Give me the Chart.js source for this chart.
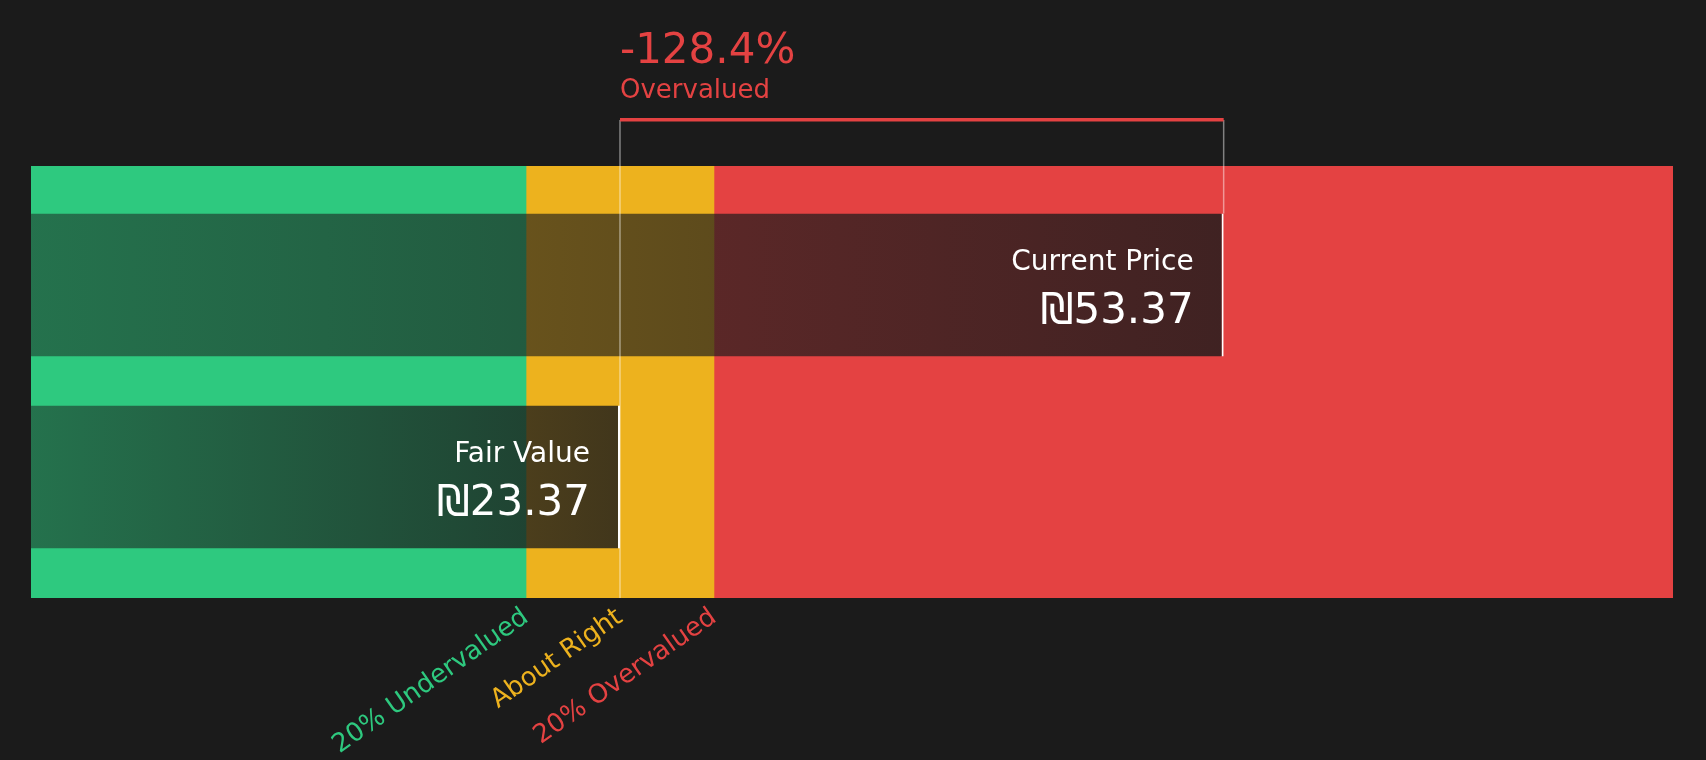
<!DOCTYPE html>
<html>
<head>
<meta charset="utf-8">
<title>Fair Value vs Current Price</title>
<script src="https://cdn.jsdelivr.net/npm/chart.js@4.4.1/dist/chart.umd.min.js"></script>
<style>
  html, body { margin: 0; padding: 0; background: #1b1b1b; }
  #wrap { width: 1706px; height: 760px; }
</style>
</head>
<body>
<div id="wrap"><canvas id="valuationChart" width="1706" height="760"></canvas></div>
<script>
// Chart data
const categories = ['Current Price', 'Fair Value'];
const prices = [53.37, 23.37];
const currency = '₪';

// Valuation zones (bands behind the bars)
const zoneLow = [-5.9, 18.70, 28.04];
const zoneHigh = [18.70, 28.04, 75.7];
const zoneColors = ['#2ec97f', '#edb21e', '#e44242'];

// Tick labels under the zone boundaries
const tickValues = [18.70, 23.37, 28.04];
const tickLabels = ['20% Undervalued', 'About Right', '20% Overvalued'];

const axisMin = zoneLow[0];
const axisMax = zoneHigh[zoneHigh.length - 1];
const FONT = '"DejaVu Sans", "Noto Sans", sans-serif';
const RED = '#e44242';

Chart.defaults.font.family = FONT;

// dark overlay that gets heavier towards the bar end
function barGradient(ctx) {
    const chart = ctx.chart;
    const area = chart.chartArea;
    if (!area || ctx.type !== 'data') {
        return 'rgba(27,27,27,0.65)';
    }
    const end = chart.scales.x.getPixelForValue(prices[ctx.dataIndex]);
    const g = chart.ctx.createLinearGradient(area.left, 0, end, 0);
    g.addColorStop(0, 'rgba(27,27,27,0.50)');
    g.addColorStop(1, 'rgba(27,27,27,0.82)');
    return g;
}

// Bracket, percentage and labels on top of the bars
const valuationOverlay = {
    id: 'valuationOverlay',
    afterDatasetsDraw(chart) {
        const { ctx, chartArea, scales: { x } } = chart;
        const bars = chart.getDatasetMeta(0).data;
        const curX = x.getPixelForValue(prices[0]);
        const fairX = x.getPixelForValue(prices[1]);
        const bracketY = chartArea.top - 46;
        const diff = (prices[1] - prices[0]) / prices[1] * 100;

        ctx.save();
        ctx.strokeStyle = 'rgba(255,255,255,0.45)';
        ctx.lineWidth = 1.5;
        ctx.beginPath();
        ctx.moveTo(fairX, bracketY);
        ctx.lineTo(fairX, chartArea.bottom);
        ctx.moveTo(curX, bracketY);
        ctx.lineTo(curX, bars[0].y - bars[0].height / 2);
        ctx.stroke();

        ctx.fillStyle = RED;
        ctx.fillRect(fairX, bracketY - 2, curX - fairX, 3.5);

        ctx.textAlign = 'left';
        ctx.textBaseline = 'alphabetic';
        ctx.font = '42px ' + FONT;
        ctx.fillText(diff.toFixed(1) + '%', fairX, bracketY - 57);
        ctx.font = '26px ' + FONT;
        ctx.fillText('Overvalued', fairX, bracketY - 22);

        ctx.fillStyle = '#ffffff';
        ctx.textAlign = 'right';
        bars.forEach((bar, i) => {
            const top = bar.y - bar.height / 2;
            ctx.font = '28px ' + FONT;
            ctx.fillText(categories[i], bar.x - 30, top + 56);
            ctx.font = '42px ' + FONT;
            ctx.fillText(currency + prices[i].toFixed(2), bar.x - 30, top + 109);
        });
        ctx.restore();
    }
};

const zoneDatasets = zoneLow.map((low, i) => ({
    label: tickLabels[i],
    data: [[low, zoneHigh[i]]],
    yAxisID: 'yb',
    backgroundColor: zoneColors[i],
    barPercentage: 1,
    categoryPercentage: 1,
    grouped: false,
    order: 2
}));

new Chart(document.getElementById('valuationChart'), {
    type: 'bar',
    data: {
        datasets: [{
            label: 'Price',
            data: prices.map((p, i) => ({ x: p, y: i })),
            yAxisID: 'y',
            base: axisMin,
            backgroundColor: barGradient,
            borderColor: '#ffffff',
            borderWidth: { top: 0, right: 2, bottom: 0, left: 0 },
            borderSkipped: false,
            barPercentage: 0.745,
            categoryPercentage: 1,
            grouped: false,
            order: 1
        }, ...zoneDatasets]
    },
    options: {
        indexAxis: 'y',
        responsive: false,
        maintainAspectRatio: false,
        devicePixelRatio: 1,
        animation: false,
        layout: { padding: { left: 31, right: 33, top: 166, bottom: 0 } },
        plugins: {
            legend: { display: false },
            tooltip: { enabled: false }
        },
        scales: {
            x: {
                type: 'linear',
                min: axisMin,
                max: axisMax,
                bounds: 'data',
                grid: { display: false, drawTicks: false },
                border: { display: false },
                afterBuildTicks: (scale) => {
                    scale.ticks = tickValues.map(v => ({ value: v }));
                },
                afterFit: (scale) => {
                    scale.height = 162;
                },
                ticks: {
                    autoSkip: false,
                    minRotation: 35,
                    maxRotation: 35,
                    padding: 4,
                    font: { size: 26 },
                    color: (c) => zoneColors[c.index],
                    callback: (v, i) => tickLabels[i]
                }
            },
            y: {
                type: 'linear',
                display: false,
                reverse: true,
                offset: false,
                min: -0.62,
                max: 1.63,
                afterBuildTicks: (scale) => {
                    scale.ticks = categories.map((c, i) => ({ value: i }));
                }
            },
            yb: {
                type: 'category',
                labels: ['zones'],
                display: false,
                offset: true
            }
        }
    },
    plugins: [valuationOverlay]
});
</script>
</body>
</html>
